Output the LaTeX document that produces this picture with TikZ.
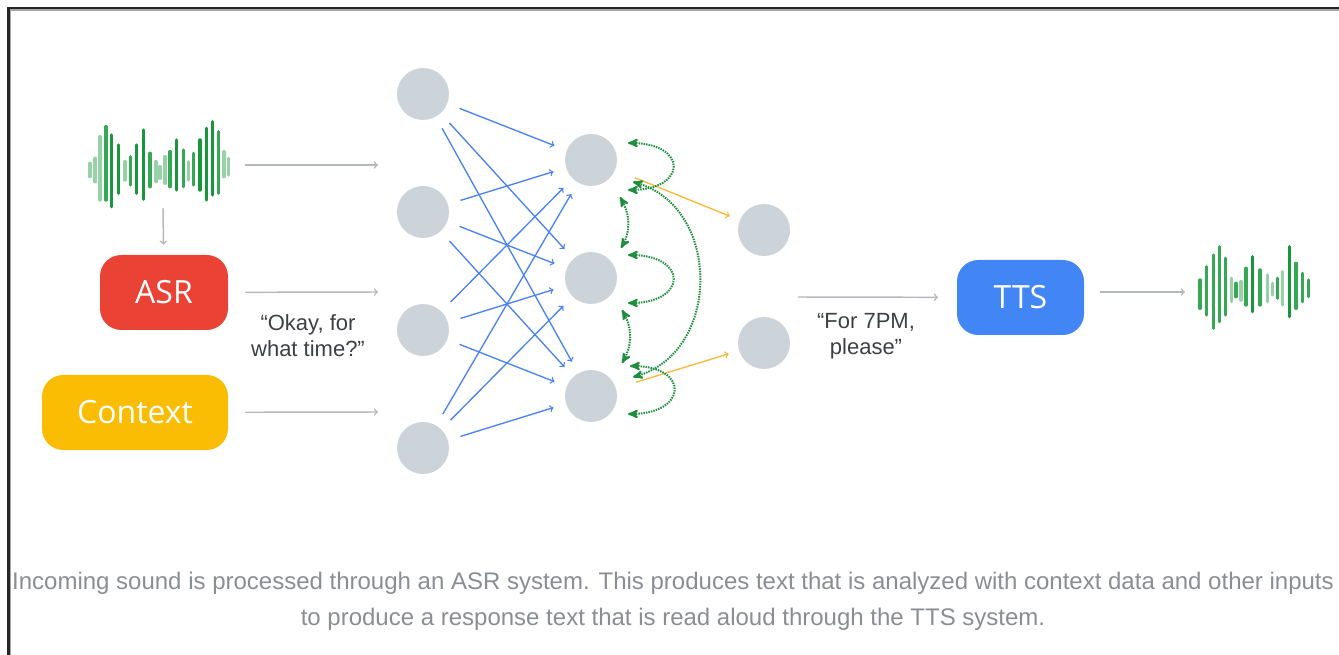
\documentclass[tikz,border=0pt]{standalone}
\usepackage{fontspec}
\setmainfont{Liberation Sans}
\newfontfamily\blockfont{Open Sans}
\usepackage{tikz}
\usepackage{color}
\usetikzlibrary{arrows}
\usetikzlibrary{positioning}

\definecolor{netgray}{HTML}{CDD4D9}
\definecolor{flowgray}{HTML}{B4B7BB}
\definecolor{linkblue}{HTML}{4A82F2}
\definecolor{outorange}{HTML}{F9B83A}
\definecolor{loopgreen}{HTML}{1E8E3E}
\definecolor{asrred}{HTML}{EA4335}
\definecolor{ctxyellow}{HTML}{FBBC04}
\definecolor{ttsblue}{HTML}{4285F4}
\definecolor{wavedark}{HTML}{17963C}
\definecolor{wavemid}{HTML}{34A853}
\definecolor{wavelight}{HTML}{96D2A6}
\definecolor{textgray}{HTML}{3C4043}
\definecolor{capgray}{HTML}{8A8E93}

\begin{document}
\begin{tikzpicture}[x=0.75pt,y=-0.75pt,>=stealth',node distance=88.5pt,
    main node/.style={circle,fill=netgray,minimum size=39pt,inner sep=0pt},
    block/.style={rounded corners=16pt,minimum height=56.25pt,inner sep=0pt,
      text=white,font=\blockfont\fontsize{24}{28}\selectfont},
    flow/.style={-to,draw=flowgray,line width=1.1pt},
    link/.style={-to,draw=linkblue,line width=1pt,shorten <=9.75pt,shorten >=9.75pt},
    feed/.style={-to,draw=outorange,line width=1pt,shorten <=15.75pt,shorten >=8pt},
    recur/.style={<->,draw=loopgreen,line width=1.5pt,dash pattern=on 1.1pt off 0.8pt},
    said/.style={align=center,text=textgray,font=\fontsize{16.5}{19.5}\selectfont},
    bar/.style={line width=2.6pt,line cap=round}]

  \useasboundingbox (0,0) rectangle (1339,655);
  \draw[line width=1.6pt,black!85] (8.5,655) -- (8.5,8) -- (1339,8);
  \draw[line width=0.8pt,black!35] (10.5,655) -- (10.5,10) -- (1339,10);

  \foreach \x/\t/\b/\c in {90/163.3/176.7/wavelight,95/158.3/181.7/wavelight,
      100/136.7/200/wavelight,106/126.7/200/wavemid,111.7/135/206.7/wavedark,
      118.3/145/193.3/wavedark,125/161.7/180/wavelight,130.7/156.7/185/wavemid,
      136.7/145/193.3/wavedark,143.3/130/199.3/wavedark,150/153.3/186.7/wavemid,
      156/161.7/181.7/wavelight,160/166.7/178.3/wavelight,165/156.7/183.3/wavelight,
      170/151.7/186.7/wavemid,176.7/140/190/wavedark,183.3/150/186.7/wavemid,
      188.3/161.7/180/wavelight,193.3/153.3/185/wavemid,200/140/190/wavedark,
      206.7/128.3/200/wavedark,212.7/121.7/195/wavedark,218.3/131.7/193.3/wavemid,
      224/151.7/176.7/wavelight,228.3/158.3/175/wavelight}
    \draw[bar,\c] (\x,\t) -- (\x,\b);

  \foreach \x/\t/\b/\c in {1200/280/308.3/wavemid,1206.7/266.7/315/wavemid,
      1213.3/255/328.3/wavemid,1219.3/246.7/321.7/wavemid,1225.7/258.3/315/wavemid,
      1231.7/278.3/301.7/wavelight,1236/283.3/296.7/wavemid,1241/281.7/300/wavelight,
      1246/268.3/305/wavemid,1252.7/256.7/311.7/wavedark,1260/270/305/wavemid,
      1267.3/275/301.7/wavelight,1272.3/283.3/295/wavelight,1277.7/278.3/298.3/wavemid,
      1282.7/271.7/305/wavelight,1289.3/246.7/316.7/wavedark,1296/263.3/308.3/wavemid,
      1302.3/273.3/301.7/wavemid,1308.3/280/296.7/wavemid}
    \draw[bar,\c] (\x,\t) -- (\x,\b);

  \node[block,fill=asrred,minimum width=96pt] (asr) at (164,292.5) {ASR};
  \node[block,fill=ctxyellow,minimum width=139.5pt] (ctx) at (135,412.5) {Context};
  \node[block,fill=ttsblue,minimum width=95.25pt] (tts) at (1020.5,297.5) {TTS};

  \node[main node] (1) at (423,94) {};
  \node[main node] (2) [below of=1] {};
  \node[main node] (3) [below of=2] {};
  \node[main node] (4) [below of=3] {};
  \node[main node] (5) at (591,160) {};
  \node[main node] (6) [below of=5] {};
  \node[main node] (7) [below of=6] {};
  \node[main node] (8) at (764,230) {};
  \node[main node] (9) [below of=8,node distance=84.75pt] {};

  \node[said] (okay) at (308,336) {“Okay, for\\what time?”};
  \node[said] (reply) at (866,336) {“For 7PM,\\please”};

  \coordinate (wave) at (230,165);
  \coordinate (wavefoot) at (163,208);
  \coordinate (in1) at (378,165);
  \coordinate (in2) at (378,292);
  \coordinate (in3) at (378,412);
  \coordinate (out) at (798,297);
  \coordinate (wave2) at (1185,292);

  \draw[flow,shorten <=11pt] (wave) -- (in1);
  \draw[flow,shorten >=7.5pt] (wavefoot) -- (asr);
  \draw[flow,shorten <=12.75pt] (asr) -- (in2);
  \draw[flow,shorten <=12.75pt] (ctx) -- (in3);
  \draw[flow,shorten >=14pt] (out) -- (tts);
  \draw[flow,shorten <=12pt] (tts.east |- wave2) -- (wave2);

  \foreach \i in {1,...,4}
    \foreach \j in {5,6,7}
      \draw[link] (\i) -- (\j);

  \draw[feed] (5) -- (8);
  \draw[feed] (7) -- (9);

  \draw[recur] ([shift={(37,-17)}]5.center) to[out=0,in=0,distance=45pt] ([shift={(37,30)}]5.center);
  \draw[recur] ([shift={(37,-23)}]6.center) to[out=0,in=0,distance=45pt] ([shift={(37,25)}]6.center);
  \draw[recur] ([shift={(39,-30)}]7.center) to[out=0,in=0,distance=45pt] ([shift={(37,18)}]7.center);
  \draw[recur] ([shift={(29,37)}]5.center) to[out=-60,in=60] ([shift={(30,-30)}]6.center);
  \draw[recur] ([shift={(31,32)}]6.center) to[out=-60,in=60] ([shift={(31,-33)}]7.center);
  \draw[recur] ([shift={(42,22)}]5.center) to[out=-15,in=15,distance=69pt] ([shift={(42,-19)}]7.center);

  \node[align=center,text=capgray,font=\fontsize{18}{27}\selectfont] (caption) at (673,601)
    {Incoming sound is processed through an ASR system. This produces text that is analyzed with context data and other inputs\\
     to produce a response text that is read aloud through the TTS system.};
\end{tikzpicture}
\end{document}
